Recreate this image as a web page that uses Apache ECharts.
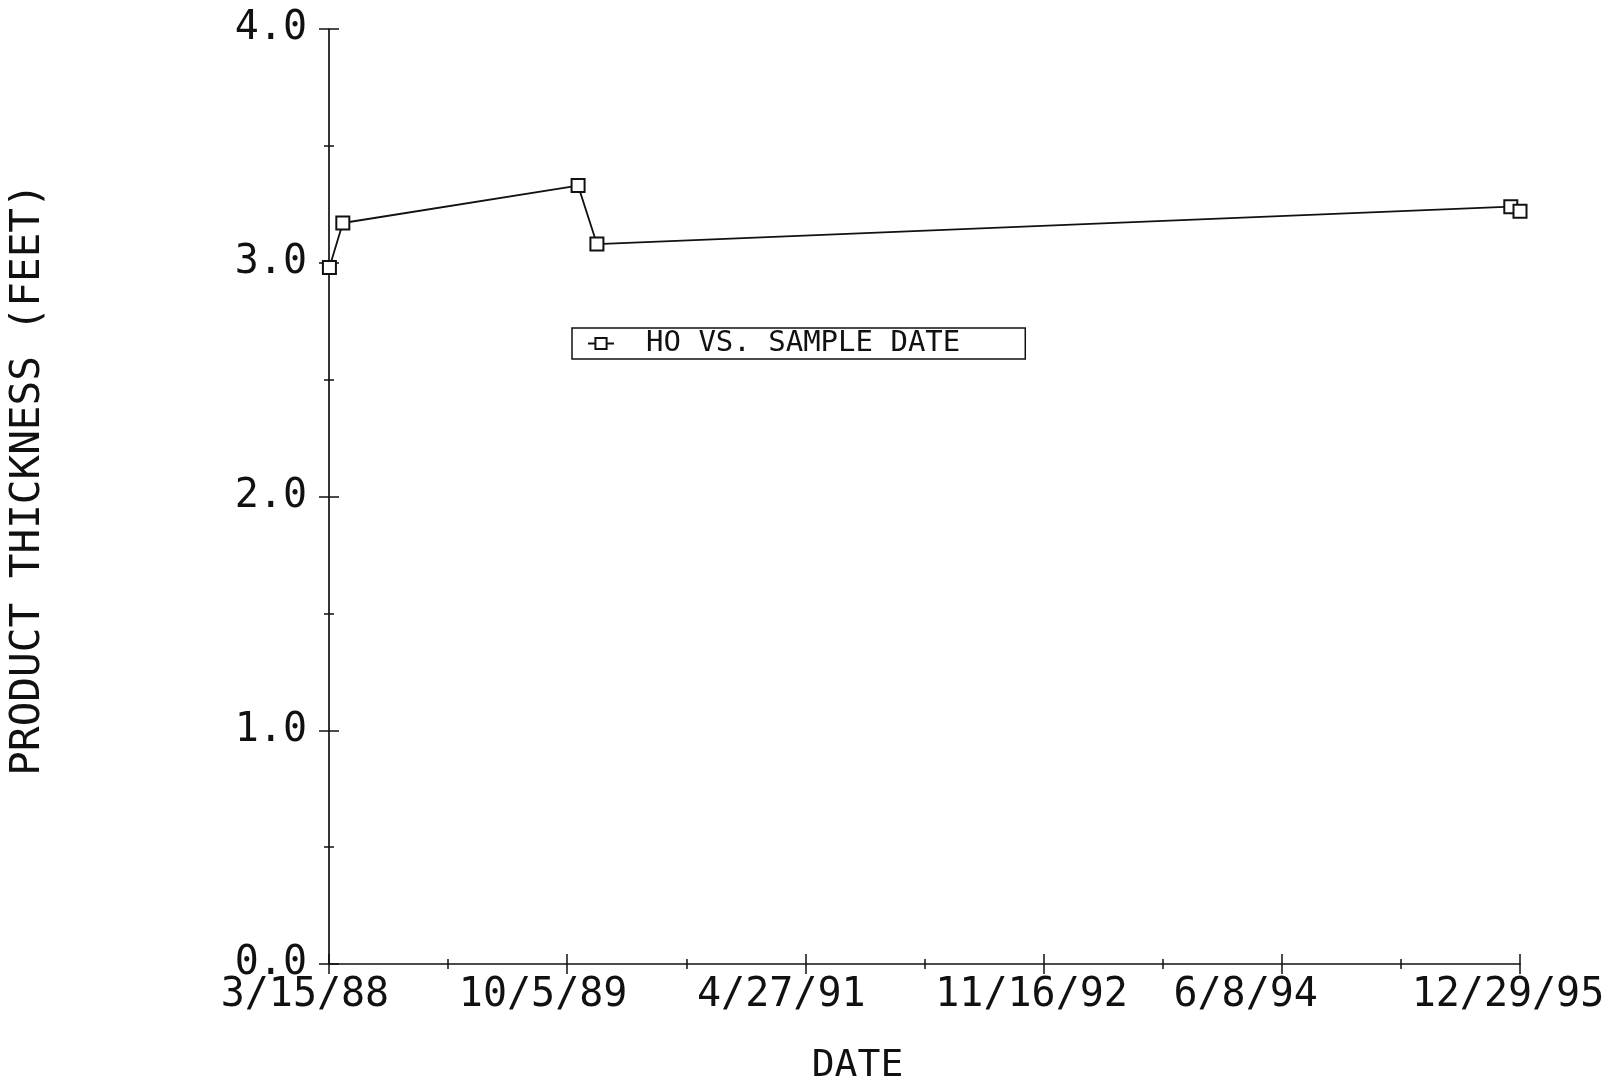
<!DOCTYPE html>
<html>
<head>
<meta charset="utf-8">
<script src="https://cdn.jsdelivr.net/npm/echarts@6/dist/echarts.min.js"></script>
<style>
  html, body { margin: 0; padding: 0; background: #fff; overflow: hidden; }
  #chart { width: 1611px; height: 1084px; }
</style>
</head>
<body>
<div id="chart"></div>
<script>
// Product thickness readings for well HO
const axisStartDate = '1988-03-15';
const sampleDates = ['1988-03-16', '1988-04-17', '1989-10-31', '1989-12-15', '1995-12-07', '1995-12-29'];
const thickness = [2.98, 3.17, 3.33, 3.08, 3.24, 3.22];
const dateTickLabels = ['3/15/88', '10/5/89', '4/27/91', '11/16/92', '6/8/94', '12/29/95'];
const dateTickStepDays = 569;
const yTickValues = [0, 1, 2, 3, 4];

const DAY = 86400000;
const startMs = Date.parse(axisStartDate);
const toDays = d => (Date.parse(d) - startMs) / DAY;
const seriesData = sampleDates.map((d, i) => [toDays(d), thickness[i]]);
const xMax = dateTickStepDays * (dateTickLabels.length - 1);

const FONT = 'DejaVu Sans Mono';
const INK = '#111';

const chart = echarts.init(document.getElementById('chart'), null, { renderer: 'canvas', width: 1611, height: 1084 });

const xBase = {
  type: 'value',
  gridIndex: 0,
  position: 'bottom',
  min: 0,
  max: xMax,
  interval: dateTickStepDays,
  splitLine: { show: false },
  minorSplitLine: { show: false }
};
const yBase = {
  type: 'value',
  gridIndex: 0,
  position: 'left',
  min: yTickValues[0],
  max: yTickValues[yTickValues.length - 1],
  interval: 1,
  splitLine: { show: false },
  minorSplitLine: { show: false }
};

chart.setOption({
  backgroundColor: '#fff',
  animation: false,
  grid: { left: 329, top: 29, right: 91, bottom: 120, containLabel: false, outerBoundsMode: 'none' },
  legend: {
    show: true,
    left: 572,
    top: 328,
    orient: 'horizontal',
    itemWidth: 26,
    itemHeight: 14,
    borderColor: INK,
    borderWidth: 1.5,
    borderRadius: 0,
    padding: [1, 65, 1, 15],
    backgroundColor: '#fff',
    textStyle: { fontFamily: FONT, fontSize: 29, color: INK, lineHeight: 29, padding: [0, 0, 0, 27] },
    data: ['HO VS. SAMPLE DATE']
  },
  xAxis: [
    Object.assign({}, xBase, {
      name: 'DATE',
      nameLocation: 'middle',
      nameGap: 83,
      nameTextStyle: { fontFamily: FONT, fontSize: 38, color: INK, padding: [0, 134, 0, 0] },
      axisLine: { show: true, lineStyle: { color: INK, width: 1.7 } },
      axisTick: { show: true, inside: false, length: 10, lineStyle: { color: INK, width: 1.5 } },
      minorTick: { show: true, splitNumber: 2, length: 5, lineStyle: { color: INK, width: 1.5 } },
      axisLabel: {
        show: true,
        margin: 12,
        fontFamily: FONT,
        fontSize: 40,
        lineHeight: 40,
        color: INK,
        showMinLabel: true,
        showMaxLabel: true,
        formatter: v => {
          const s = dateTickLabels[Math.round(v / dateTickStepDays)] || '';
          return s.padEnd(9, ' ');
        }
      }
    }),
    Object.assign({}, xBase, {
      axisLine: { show: false },
      axisTick: { show: true, inside: true, length: 10, lineStyle: { color: INK, width: 1.5 } },
      minorTick: { show: true, splitNumber: 2, length: 5, lineStyle: { color: INK, width: 1.5 } },
      axisLabel: { show: false }
    })
  ],
  yAxis: [
    Object.assign({}, yBase, {
      name: 'PRODUCT THICKNESS (FEET)',
      nameLocation: 'middle',
      nameGap: 280,
      nameRotate: 90,
      nameTextStyle: { fontFamily: FONT, fontSize: 41, color: INK, padding: [0, 0, 0, 34] },
      axisLine: { show: true, lineStyle: { color: INK, width: 1.7 } },
      axisTick: { show: true, inside: false, length: 10, lineStyle: { color: INK, width: 1.5 } },
      minorTick: { show: true, splitNumber: 2, length: 5, lineStyle: { color: INK, width: 1.5 } },
      axisLabel: {
        show: true,
        margin: 22,
        fontFamily: FONT,
        fontSize: 40,
        color: INK,
        formatter: v => v.toFixed(1)
      }
    }),
    Object.assign({}, yBase, {
      axisLine: { show: false },
      axisTick: { show: true, inside: true, length: 10, lineStyle: { color: INK, width: 1.5 } },
      minorTick: { show: true, splitNumber: 2, length: 5, lineStyle: { color: INK, width: 1.5 } },
      axisLabel: { show: false }
    })
  ],
  series: [{
    name: 'HO VS. SAMPLE DATE',
    type: 'line',
    xAxisIndex: 0,
    yAxisIndex: 0,
    data: seriesData,
    clip: false,
    symbol: 'emptyRect',
    symbolSize: 13,
    showAllSymbol: true,
    lineStyle: { color: INK, width: 1.8 },
    itemStyle: { color: INK, borderColor: INK, borderWidth: 1.8 }
  }]
});
</script>
</body>
</html>
